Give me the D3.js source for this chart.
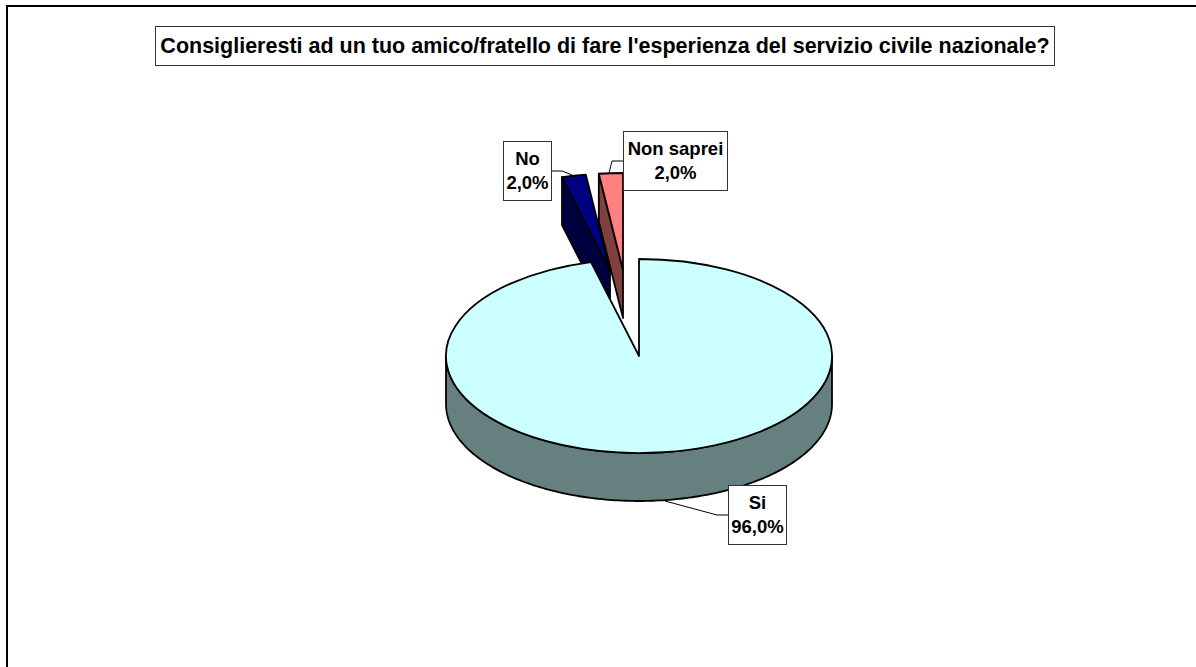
<!DOCTYPE html>
<html><head><meta charset="utf-8">
<script src="https://cdn.jsdelivr.net/npm/d3@7"></script>
<style>html,body{margin:0;padding:0;background:#fff}svg{display:block}text{font-family:"Liberation Sans",Arial,sans-serif;font-weight:bold;fill:#000}</style>
</head><body><svg id="c" width="1196" height="667"></svg>
<script>
const titleText = "Consiglieresti ad un tuo amico/fratello di fare l'esperienza del servizio civile nazionale?";
const categories = ["Si", "No", "Non saprei"];
const values = [96, 2, 2];
const valueLabels = ["96,0%", "2,0%", "2,0%"];
const topColors = ["#CCFFFF", "#000080", "#FF8080"];
const sideColors = ["#668080", "#000040", "#804040"];

const cx = 639, cy = 356, rx = 193, ry = 97, depth = 48;
const explode = [[0, 0], [-29, -85], [-16, -86]];
const boxes = [[728, 485, 58, 59], [503, 141, 48, 59], [623, 131, 104, 59]];
const leaders = [
  [[728, 515], [717, 515], [665, 501]],
  [[551, 171], [562, 171], [572, 175]],
  [[623, 161], [612, 161], [609, 173]]
];

const svg = d3.select("#c");
const sw = 1.8;
const pie = d3.pie().sort(null).value(d => d)(values);
const arc = d3.arc().innerRadius(0).outerRadius(rx);
const ell = (a, o) => [o[0] + rx * Math.sin(a), o[1] - ry * Math.cos(a)];
const line = d3.line();

// frame
svg.append("path").attr("d", "M7,667V6H1196").attr("fill", "none").attr("stroke", "#000").attr("stroke-width", 2);

function topFace(i) {
  const [dx, dy] = explode[i];
  svg.append("path")
    .attr("transform", `translate(${cx + dx},${cy + dy}) scale(1,${ry / rx})`)
    .attr("d", arc(pie[i]))
    .attr("fill", topColors[i]).attr("stroke", "#000").attr("stroke-width", sw)
    .attr("vector-effect", "non-scaling-stroke").attr("stroke-linejoin", "round");
}
function radialWall(i, a) {
  const o = [cx + explode[i][0], cy + explode[i][1]];
  const p = ell(a, o);
  svg.append("path").attr("d", line([p, o, [o[0], o[1] + depth], [p[0], p[1] + depth]]) + "Z")
    .attr("fill", sideColors[i]).attr("stroke", "#000").attr("stroke-width", sw).attr("stroke-linejoin", "round");
}

// Si outer wall (front half of the ellipse)
const o0 = [cx, cy];
const angles = d3.range(90, 270.5, 1).map(d => d * Math.PI / 180);
const upper = angles.map(a => ell(a, o0));
const lower = angles.slice().reverse().map(a => { const p = ell(a, o0); return [p[0], p[1] + depth]; });
svg.append("path").attr("d", line(upper.concat(lower)) + "Z")
  .attr("fill", sideColors[0]).attr("stroke", "#000").attr("stroke-width", sw).attr("stroke-linejoin", "round");

radialWall(1, pie[1].startAngle);
topFace(1);
topFace(0);
radialWall(2, pie[2].startAngle);
topFace(2);

// leaders
leaders.forEach(l => svg.append("path").attr("d", line(l)).attr("fill", "none").attr("stroke", "#000").attr("stroke-width", 1));

// title
svg.append("rect").attr("x", 155.5).attr("y", 26.5).attr("width", 899).attr("height", 39)
  .attr("fill", "#fff").attr("stroke", "#333").attr("stroke-width", 1);
svg.append("text").attr("x", 605).attr("y", 53).attr("text-anchor", "middle")
  .attr("font-size", 21.5).text(titleText);

// labels
categories.forEach((c, i) => {
  const [x, y, w, h] = boxes[i];
  svg.append("rect").attr("x", x + .5).attr("y", y + .5).attr("width", w).attr("height", h)
    .attr("fill", "#fff").attr("stroke", "#333").attr("stroke-width", 1);
  const mid = x + w / 2 + .5;
  const t = svg.append("text").attr("text-anchor", "middle").attr("font-size", 18.5);
  t.append("tspan").attr("x", mid).attr("y", y + 24).text(c);
  t.append("tspan").attr("x", mid).attr("y", y + 48).text(valueLabels[i]);
});
</script></body></html>
